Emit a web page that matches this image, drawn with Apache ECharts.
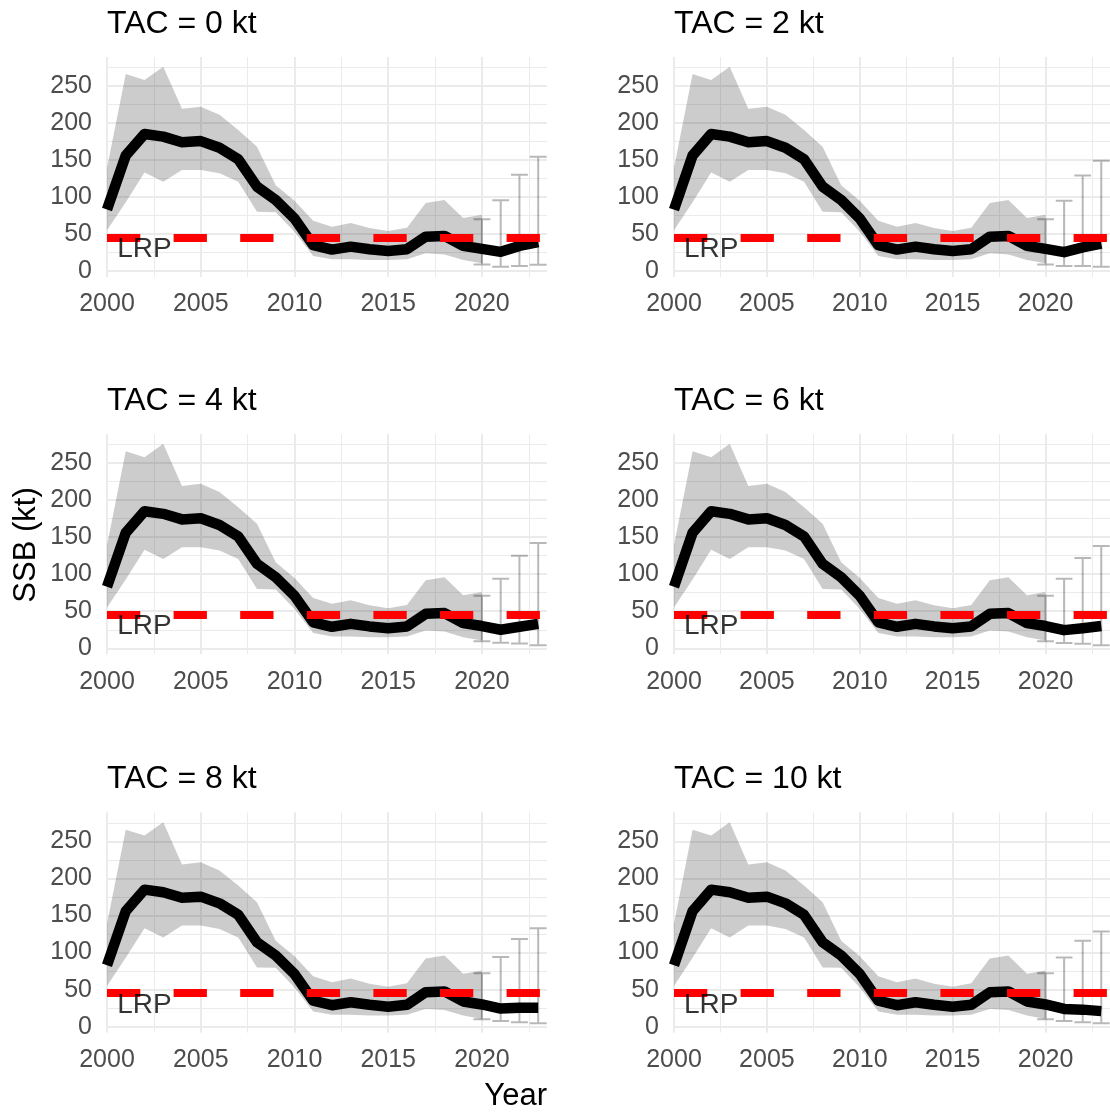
<!DOCTYPE html>
<html>
<head>
<meta charset="utf-8">
<script src="https://cdn.jsdelivr.net/npm/echarts@6/dist/echarts.min.js"></script>
<style>
  html, body { margin: 0; padding: 0; background: #ffffff; }
  #chart { width: 1110px; height: 1112px; }
</style>
</head>
<body>
<div id="chart"></div>
<script>
// Spawning stock biomass (kt): assessment 2000-2020 plus 2021-2023 projections
// under six total allowable catch (TAC) scenarios.

const histYears  = [2000, 2001, 2002, 2003, 2004, 2005, 2006, 2007, 2008, 2009, 2010,
                    2011, 2012, 2013, 2014, 2015, 2016, 2017, 2018, 2019, 2020];
const histMedian = [83, 156, 185, 181.5, 174, 175.5, 166.5, 151, 114, 96, 71,
                    35, 29, 33, 29.5, 27, 29.5, 46.5, 47.5, 34, 30];
const histLower  = [55, 93, 133, 120.5, 136.5, 136.5, 132, 120.5, 80, 79.5, 53,
                    20.5, 16, 16, 15, 15, 16, 24, 22.5, 15, 10.5];
const histUpper  = [139, 266, 258, 276, 219, 222, 211, 190.5, 168, 116, 95,
                    68, 60, 65, 58, 54, 58.5, 92, 96, 71.5, 76];

const tacLabels = ['TAC = 0 kt', 'TAC = 2 kt', 'TAC = 4 kt', 'TAC = 6 kt', 'TAC = 8 kt', 'TAC = 10 kt'];

// projected median SSB for 2021-2023, one row per TAC
const projMedianYears = [2021, 2022, 2023];
const projMedian = [
  [26, 34, 39],
  [25.5, 32, 37],
  [25, 29, 33],
  [24.5, 27, 30],
  [24.5, 25.5, 25.5],
  [24, 23, 21]
];

// projection intervals 2020-2023, one row per TAC
const projYears = [2020, 2021, 2022, 2023];
const projLow = [
  [9, 6, 7, 8.5],
  [9, 7, 7, 6],
  [9.5, 7.5, 6.5, 4],
  [9.5, 7, 6, 4],
  [10, 7.5, 6, 4.5],
  [10, 7.5, 6, 4.5]
];
const projHigh = [
  [70, 95.5, 130, 154.5],
  [70, 95, 129, 149],
  [71, 94, 125, 142],
  [71, 94, 122, 138],
  [72, 94, 118.5, 133],
  [72, 93.5, 116, 128.5]
];

// limit reference point
const LRP = 45.5;
const lrpLabelYear = 2002;

// ---------------------------------------------------------------------------
const FONT = '"Liberation Sans", Arial, sans-serif';
const GRID_COLOR = '#EBEBEB';
const X_MIN = 2000, X_MAX = 2023.47;
const Y_MIN = -8, Y_MAX = 289;
const panelLeft = [107, 674];
const panelTop = [57, 434.2, 812.6];
const panelW = 440, panelH = 220;

const grids = [], xAxes = [], yAxes = [], series = [], titles = [];
const minorX = [], minorY = [];

tacLabels.forEach((label, i) => {
  const col = i % 2, row = Math.floor(i / 2);
  grids.push({ left: panelLeft[col], top: panelTop[row], width: panelW, height: panelH });

  titles.push({
    text: label, left: panelLeft[col], top: panelTop[row] - 49, padding: 0,
    textStyle: { fontFamily: FONT, fontSize: 32, fontWeight: 'normal', color: '#000000', lineHeight: 32 }
  });

  // major x grid + labels
  xAxes.push({
    type: 'value', gridIndex: i, min: X_MIN, max: X_MAX, interval: 5,
    axisLine: { show: false }, axisTick: { show: false },
    axisLabel: {
      fontFamily: FONT, fontSize: 25, color: '#4D4D4D', margin: 15,
      showMaxLabel: false,
      formatter: v => (v % 5 === 0 ? String(v) : '')
    },
    splitLine: { show: true, showMaxLine: false, lineStyle: { color: GRID_COLOR, width: 2 } }
  });
  // minor x grid
  minorX.push({
    type: 'value', gridIndex: i, min: X_MIN, max: X_MAX, interval: 2.5,
    axisLine: { show: false }, axisTick: { show: false }, axisLabel: { show: false },
    splitLine: { show: true, showMaxLine: false, lineStyle: { color: GRID_COLOR, width: 1 } }
  });

  // major y grid + labels
  yAxes.push({
    type: 'value', gridIndex: i, min: Y_MIN, max: Y_MAX,
    minInterval: 50, maxInterval: 50, splitNumber: 6,
    axisLine: { show: false }, axisTick: { show: false },
    axisLabel: {
      fontFamily: FONT, fontSize: 25, color: '#4D4D4D', margin: 15,
      padding: [6, 0, 0, 0],
      showMinLabel: false, showMaxLabel: false,
      formatter: v => (v % 50 === 0 ? String(v) : '')
    },
    splitLine: { show: true, showMinLine: false, showMaxLine: false, lineStyle: { color: GRID_COLOR, width: 2 } }
  });
  // minor y grid
  minorY.push({
    type: 'value', gridIndex: i, min: Y_MIN, max: Y_MAX,
    minInterval: 25, maxInterval: 25, splitNumber: 12,
    axisLine: { show: false }, axisTick: { show: false }, axisLabel: { show: false },
    splitLine: { show: true, showMinLine: false, showMaxLine: false, lineStyle: { color: GRID_COLOR, width: 1 } }
  });

  // uncertainty ribbon over the assessment years
  series.push({
    type: 'custom', xAxisIndex: i, yAxisIndex: i, z: 2, silent: true,
    data: histYears.map((y, k) => [y, histLower[k], histUpper[k]]),
    encode: { x: 0, y: [1, 2] },
    renderItem: (params, api) => {
      if (params.dataIndex !== 0) return null;
      const pts = [];
      histYears.forEach((y, k) => pts.push(api.coord([y, histUpper[k]])));
      for (let k = histYears.length - 1; k >= 0; k--) pts.push(api.coord([histYears[k], histLower[k]]));
      return { type: 'polygon', shape: { points: pts }, style: { fill: 'rgba(0,0,0,0.2)' } };
    }
  });

  // projection error bars
  series.push({
    type: 'custom', xAxisIndex: i, yAxisIndex: i, z: 3, silent: true,
    data: projYears.map((y, k) => [y, projLow[i][k], projHigh[i][k]]),
    encode: { x: 0, y: [1, 2] },
    renderItem: (params, api) => {
      const x = api.value(0);
      const lo = api.coord([x, api.value(1)]);
      const hi = api.coord([x, api.value(2)]);
      const half = api.size([0.9, 0])[0] / 2;
      const d = `M${hi[0] - half},${hi[1]}L${hi[0] + half},${hi[1]}` +
                `M${hi[0]},${hi[1]}L${lo[0]},${lo[1]}` +
                `M${lo[0] - half},${lo[1]}L${lo[0] + half},${lo[1]}`;
      return { type: 'path', shape: { pathData: d }, style: { stroke: 'rgba(0,0,0,0.28)', lineWidth: 2, fill: null } };
    }
  });

  // median SSB line
  const lineData = histYears.map((y, k) => [y, histMedian[k]])
    .concat(projMedianYears.map((y, k) => [y, projMedian[i][k]]));
  series.push({
    type: 'line', xAxisIndex: i, yAxisIndex: i, z: 4, silent: true,
    data: lineData, showSymbol: false, symbol: 'none',
    lineStyle: { color: '#000000', width: 10.5, cap: 'butt', join: 'round' }
  });

  // LRP reference line and label
  series.push({
    type: 'scatter', xAxisIndex: i, yAxisIndex: i, z: 5, silent: true,
    data: [[lrpLabelYear, LRP]], symbolSize: 0,
    label: {
      show: true, formatter: 'LRP', position: 'inside', align: 'center', verticalAlign: 'top',
      offset: [0, -2], fontFamily: FONT, fontSize: 28, color: '#000000', lineHeight: 28
    },
    markLine: {
      silent: true, symbol: ['none', 'none'], label: { show: false },
      lineStyle: { color: '#FF0000', width: 8, type: [33.3, 33.3], cap: 'butt' },
      emphasis: { disabled: true },
      data: [{ yAxis: LRP }]
    }
  });
});

const chart = echarts.init(document.getElementById('chart'), null, { renderer: 'canvas' });
chart.setOption({
  animation: false,
  backgroundColor: '#ffffff',
  title: titles,
  grid: grids,
  xAxis: xAxes.concat(minorX),
  yAxis: yAxes.concat(minorY),
  series: series,
  graphic: [
    {
      type: 'text', x: 26, y: 545, rotation: Math.PI / 2,
      style: { text: 'SSB (kt)', font: `31px ${FONT}`, fill: '#000000',
               align: 'center', verticalAlign: 'middle', textAlign: 'center', textVerticalAlign: 'middle' }
    },
    {
      type: 'text', x: 547, y: 1096,
      style: { text: 'Year', font: `31px ${FONT}`, fill: '#000000',
               align: 'right', verticalAlign: 'middle', textAlign: 'right', textVerticalAlign: 'middle' }
    }
  ]
});
</script>
</body>
</html>
